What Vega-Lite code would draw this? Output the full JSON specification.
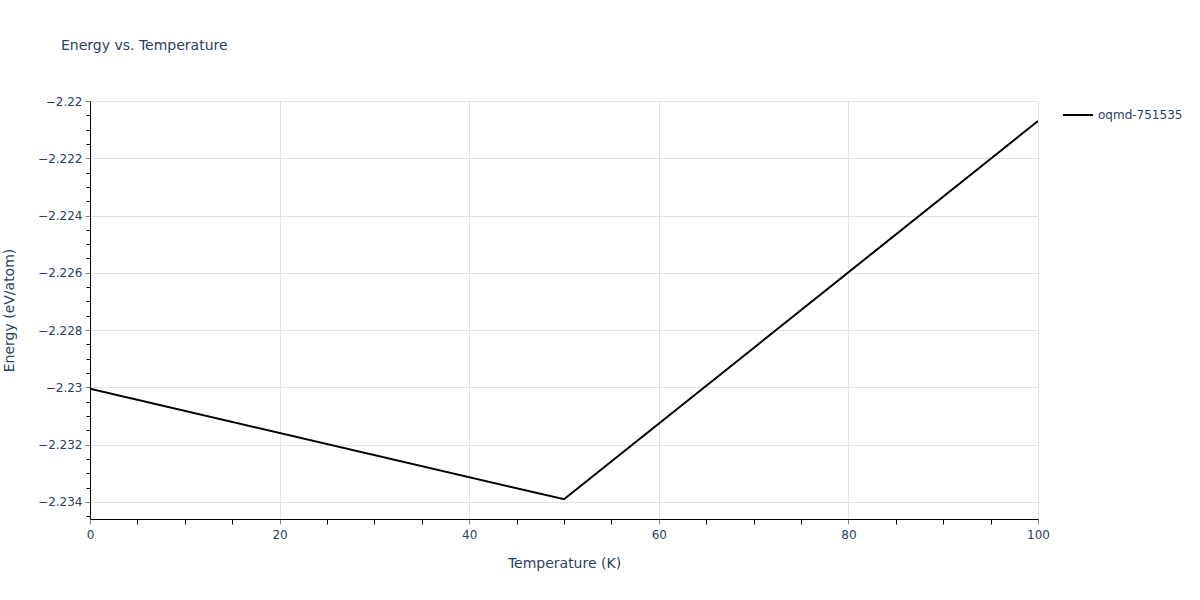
{
  "$schema": "https://vega.github.io/schema/vega-lite/v6.json",
  "width": 948,
  "height": 418,
  "autosize": {"type": "none"},
  "padding": {"left": 90, "top": 101, "right": 162, "bottom": 81},
  "background": "white",
  "config": {
    "font": "DejaVu Sans",
    "view": {"stroke": null},
    "axis": {"labelFont": "DejaVu Sans", "titleFont": "DejaVu Sans", "labelColor": "#2a3f5f", "titleColor": "#2a3f5f", "labelFontSize": 12, "titleFontSize": 14, "titleFontWeight": "normal"}
  },
  "title": {
    "text": "Energy vs. Temperature",
    "anchor": "start",
    "frame": "group",
    "dx": -29,
    "offset": 42,
    "font": "DejaVu Sans",
    "fontSize": 14,
    "fontWeight": "normal",
    "color": "#2a3f5f"
  },
  "data": {
    "values": [
      {"T": 0, "E": -2.23005, "name": "oqmd-751535"},
      {"T": 50, "E": -2.23391, "name": "oqmd-751535"},
      {"T": 100, "E": -2.2207, "name": "oqmd-751535"}
    ]
  },
  "layer": [
    {
      "mark": {"type": "line", "strokeWidth": 2, "clip": true},
      "encoding": {
        "x": {
          "field": "T", "type": "quantitative",
          "scale": {"domain": [0, 100], "nice": false, "zero": false},
          "axis": {"title": "Temperature (K)", "values": [0, 20, 40, 60, 80, 100], "labelFlush": false, "grid": true, "gridColor": "#e2e2e2", "domainColor": "#000000", "tickColor": "#888888", "tickSize": 5, "labelPadding": 5, "titlePadding": 16, "format": "d"}
        },
        "y": {
          "field": "E", "type": "quantitative",
          "scale": {"domain": [-2.2346, -2.22], "nice": false, "zero": false},
          "axis": {"title": "Energy (eV/atom)", "values": [-2.234, -2.232, -2.23, -2.228, -2.226, -2.224, -2.222, -2.22], "format": ".3~f", "labelFlush": false, "grid": true, "gridColor": "#e2e2e2", "domainColor": "#000000", "tickColor": "#888888", "tickSize": 5, "labelPadding": 3, "titlePadding": 21}
        },
        "color": {
          "field": "name", "type": "nominal",
          "scale": {"range": ["#000000"]},
          "legend": {"title": null, "orient": "none", "legendX": 972, "legendY": -2, "padding": 0, "symbolType": "stroke", "symbolSize": 900, "symbolStrokeWidth": 2, "labelOffset": 4, "labelFontSize": 12, "labelFont": "DejaVu Sans", "labelColor": "#2a3f5f"}
        }
      }
    },
    {
      "mark": {"type": "line", "strokeOpacity": 0},
      "encoding": {
        "x": {
          "field": "T", "type": "quantitative",
          "axis": {"title": null, "orient": "bottom", "labels": false, "grid": false, "domain": false, "values": [5, 10, 15, 25, 30, 35, 45, 50, 55, 65, 70, 75, 85, 90, 95], "tickColor": "#000000", "tickSize": 5}
        },
        "y": {
          "field": "E", "type": "quantitative",
          "axis": {"title": null, "orient": "left", "labels": false, "grid": false, "domain": false, "values": [-2.2345, -2.2335, -2.233, -2.2325, -2.2315, -2.231, -2.2305, -2.2295, -2.229, -2.2285, -2.2275, -2.227, -2.2265, -2.2255, -2.225, -2.2245, -2.2235, -2.223, -2.2225, -2.2215, -2.221, -2.2205], "tickColor": "#000000", "tickSize": 4}
        }
      }
    }
  ],
  "resolve": {"axis": {"x": "independent", "y": "independent"}}
}
